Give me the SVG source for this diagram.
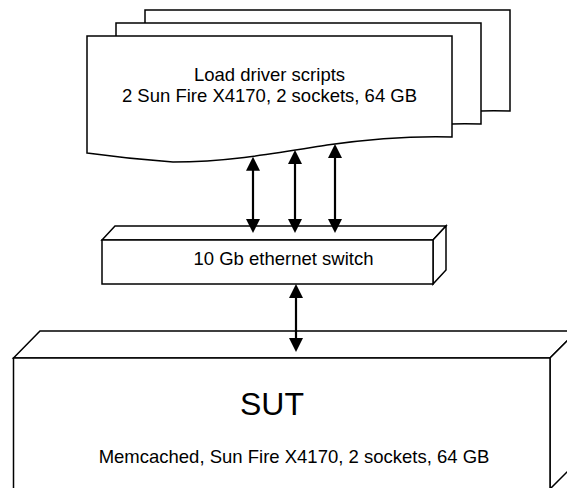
<svg xmlns="http://www.w3.org/2000/svg" width="567" height="488" viewBox="0 0 567 488">
<style>
.shape{fill:#fff;stroke:#000;stroke-width:1.5;stroke-linejoin:miter}
.txt{font-family:"Liberation Sans",Arial,sans-serif;font-size:18.5px;fill:#000;text-anchor:middle}
.big{font-size:32px}
.conn{stroke:#000;stroke-width:2.2;fill:none;marker-start:url(#ah);marker-end:url(#ah)}
</style>
<defs>
<marker id="ah" viewBox="0 0 14 14" refX="8" refY="7" markerWidth="14" markerHeight="14" markerUnits="userSpaceOnUse" orient="auto-start-reverse">
<path d="M0,0 L14,7 L0,14 Z" fill="#000"/>
</marker>
<path id="doc" d="M0,0 H365 V101 C330,100 290,102 240,109 C190,117 140,126 86,126 Q43,123 0,117 Z"/>
</defs>
<rect width="567" height="488" fill="#fff"/>
<g id="loaddrivers">
<use href="#doc" class="shape" x="145" y="10"/>
<use href="#doc" class="shape" x="116" y="23"/>
<use href="#doc" class="shape" x="87" y="36"/>
<text class="txt" x="269.5" y="81">Load driver scripts</text>
<text class="txt" x="269.5" y="102">2 Sun Fire X4170, 2 sockets, 64 GB</text>
</g>
<g id="switch">
<path class="shape" d="M102,240 L115,226 H446 L433,240 Z"/>
<path class="shape" d="M433,240 L446,226 V270 L433,284 Z"/>
<rect class="shape" x="102" y="240" width="331" height="44"/>
<text class="txt" x="283.5" y="265">10 Gb ethernet switch</text>
</g>
<g id="sut">
<path class="shape" d="M13.5,358 L40,331 H577 L550,358 Z"/>
<path class="shape" d="M550,358 L577,331 V462 L550,489 Z"/>
<rect class="shape" x="13.5" y="358" width="536.5" height="131"/>
<text class="txt big" x="272" y="415">SUT</text>
<text class="txt" x="294" y="463">Memcached, Sun Fire X4170, 2 sockets, 64 GB</text>
</g>
<g id="connectors">
<line class="conn" x1="253" y1="162.7" x2="253" y2="227"/>
<line class="conn" x1="295" y1="156" x2="295" y2="227"/>
<line class="conn" x1="335" y1="150" x2="335" y2="227"/>
<line class="conn" x1="296" y1="290" x2="296" y2="346"/>
</g>
</svg>
